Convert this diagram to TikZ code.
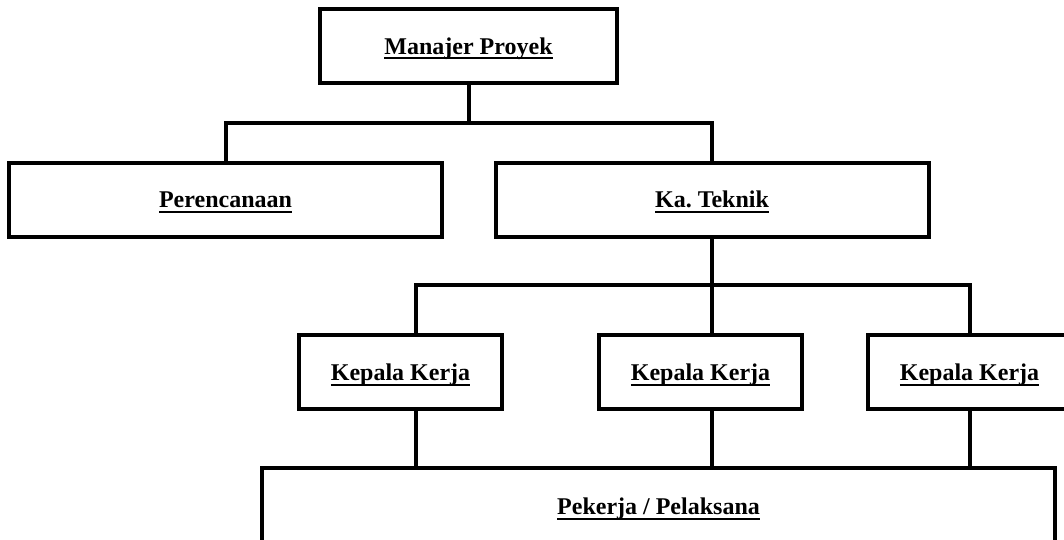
\documentclass[tikz,border=0pt]{standalone}
\usepackage{fontspec}
\setmainfont{Liberation Serif}
\frenchspacing

\newsavebox{\ulsavebox}
\newcommand{\ultext}[1]{\sbox{\ulsavebox}{#1}\rlap{\rule[-2.6pt]{\wd\ulsavebox}{1pt}}\usebox{\ulsavebox}}

\tikzset{
  unit/.style = {draw, line width=2pt, font=\fontsize{12pt}{14pt}\selectfont\bfseries,
    inner sep=0pt, text height=9pt, text depth=0.7pt, minimum height=37pt},
  link/.style = {line width=2pt},
}

\begin{document}
\begin{tikzpicture}[x=0.5pt, y=-0.5pt,
  every node/.style = {align=center}]
\useasboundingbox (0,0) rectangle (1064,540);

% boxes
\node[unit, minimum width=148.5pt] (mp) at (468.5,46) {\ultext{Manajer Proyek}};
\node[unit, minimum width=216.5pt] (pr) at (225.5,199.5) {\ultext{Perencanaan}};
\node[unit, minimum width=216.5pt] (kt) at (712,199.5) {\ultext{Ka. Teknik}};
\node[unit, minimum width=101.5pt] (kk1) at (400.5,372) {\ultext{Kepala Kerja}};
\node[unit, minimum width=101.5pt] (kk2) at (700.5,372) {\ultext{Kepala Kerja}};
\node[unit, minimum width=101.5pt] (kk3) at (969.5,372) {\ultext{Kepala Kerja}};
\node[unit, minimum width=396.5pt, minimum height=38pt] (pp) at (658.5,506) {\ultext{Pekerja / Pelaksana}};

% connectors
\draw[link] (mp.south) -- ++(0,38) coordinate (fork1);
\draw[link] (pr.north) |- (fork1) -| (kt.north);
\draw[link] (kt.south) -- ++(0,46) coordinate (fork2);
\draw[link] ([xshift=7.75pt]kk1.north) |- (fork2) -| (kk3.north);
\draw[link] (fork2) -- (fork2 |- kk2.north);
\draw[link] ([xshift=7.75pt]kk1.south) -- ([xshift=7.75pt]kk1.south |- pp.north);
\draw[link] (fork2 |- kk2.south) -- (fork2 |- pp.north);
\draw[link] (kk3.south) -- (kk3.south |- pp.north);
\end{tikzpicture}
\end{document}
